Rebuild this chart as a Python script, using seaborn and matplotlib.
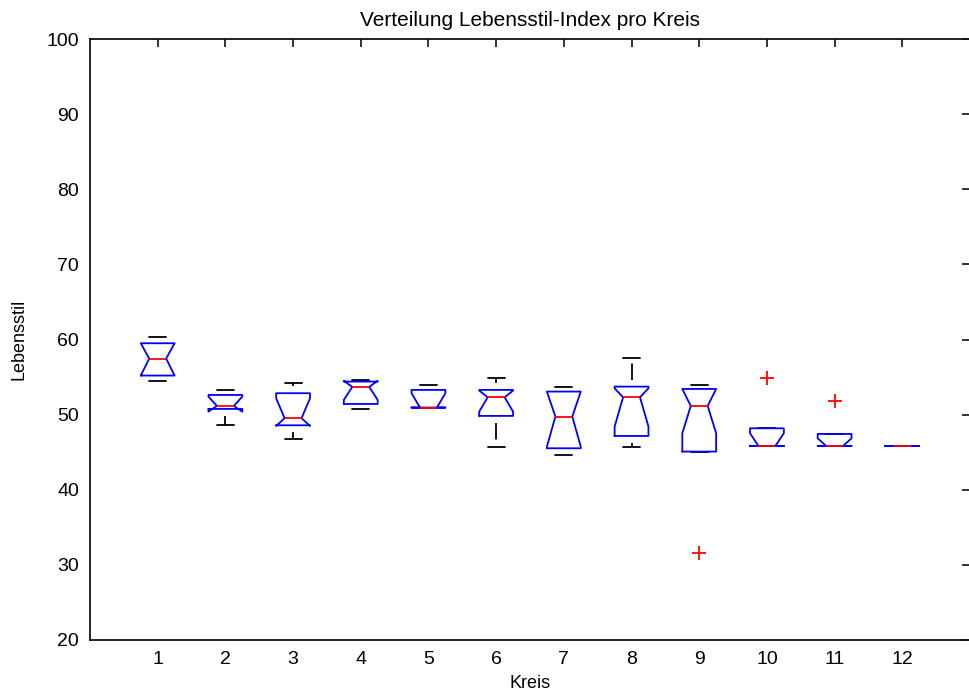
import matplotlib
matplotlib.use("Agg")
import matplotlib.pyplot as plt
import seaborn as sns

# Lebensstil-Index per Kreis
kreise = [str(k) for k in range(1, 13)]
q1 = [55.20, 50.76, 48.58, 51.42, 50.94, 49.83, 45.52, 47.16, 45.08, 45.83, 45.83, 45.83]
med = [57.46, 51.16, 49.52, 53.69, 50.94, 52.31, 49.74, 52.31, 51.16, 45.83, 45.83, 45.83]
q3 = [59.50, 52.62, 52.85, 54.40, 53.29, 53.29, 53.07, 53.73, 53.42, 48.18, 47.43, 45.83]
ci_lo = [55.20, 50.40, 48.50, 51.96, 50.94, 50.40, 45.74, 48.41, 47.52, 45.83, 45.83, 45.83]
ci_hi = [59.50, 52.40, 52.18, 54.50, 52.85, 53.20, 53.07, 53.50, 53.42, 47.52, 46.85, 45.83]
whis_lo = [54.44, 48.58, 46.72, 50.71, 50.94, 45.74, 44.63, 45.74, 45.08, 45.83, 45.83, 45.83]
whis_hi = [60.30, 53.24, 54.22, 54.62, 53.96, 54.84, 53.73, 57.50, 53.96, 48.18, 47.43, 45.83]
ausreisser = [[], [], [], [], [], [], [], [], [31.54], [54.93], [51.82], []]

sns.set_style("white")
plt.rcParams['font.family'] = ['Liberation Sans', 'DejaVu Sans']

stats = []
for i, k in enumerate(kreise):
    stats.append(dict(label=k, q1=q1[i], med=med[i], q3=q3[i], cilo=ci_lo[i], cihi=ci_hi[i],
                      whislo=whis_lo[i], whishi=whis_hi[i], fliers=ausreisser[i]))

fig = plt.figure(figsize=(9.69, 6.95), dpi=100)
ax = fig.add_axes([90 / 969, 1 - 640 / 695, 880 / 969, 601 / 695])

lw = 1.3
# caps/whiskers below the boxes so the blue outline stays on top
ax.bxp(stats, positions=range(1, 13), widths=0.5, shownotches=True,
       boxprops=dict(color='blue', linewidth=lw, zorder=3),
       medianprops=dict(color='red', linewidth=lw, zorder=4),
       whiskerprops=dict(color='black', linewidth=lw, linestyle=(9.1, (9.1, 3.9)), zorder=2),
       capprops=dict(color='black', linewidth=lw, zorder=2),
       flierprops=dict(marker='+', markeredgecolor='red', markersize=10, markeredgewidth=1.3,
                       linestyle='none', zorder=4))

ax.set_xlim(0, 13)
ax.set_ylim(20, 100)
ax.set_xticks(range(1, 13))
ax.set_xticklabels(kreise)
ax.set_yticks(range(20, 101, 10))

for s in ax.spines.values():
    s.set_color('#111111')
    s.set_linewidth(1.3)
ax.tick_params(direction='in', top=True, right=True, length=6, width=1.2,
               labelsize=14, pad=8, color='#111111', labelcolor='black')

ax.set_title('Verteilung Lebensstil-Index pro Kreis', fontsize=15, pad=9, color='black')
ax.set_xlabel('Kreis', fontsize=13, color='black')
ax.set_ylabel('Lebensstil', fontsize=13, color='black')
ax.xaxis.set_label_coords(0.5, -0.058)
ax.yaxis.set_label_coords(-0.0705, 0.5)

fig.savefig('out.png', dpi=100)
